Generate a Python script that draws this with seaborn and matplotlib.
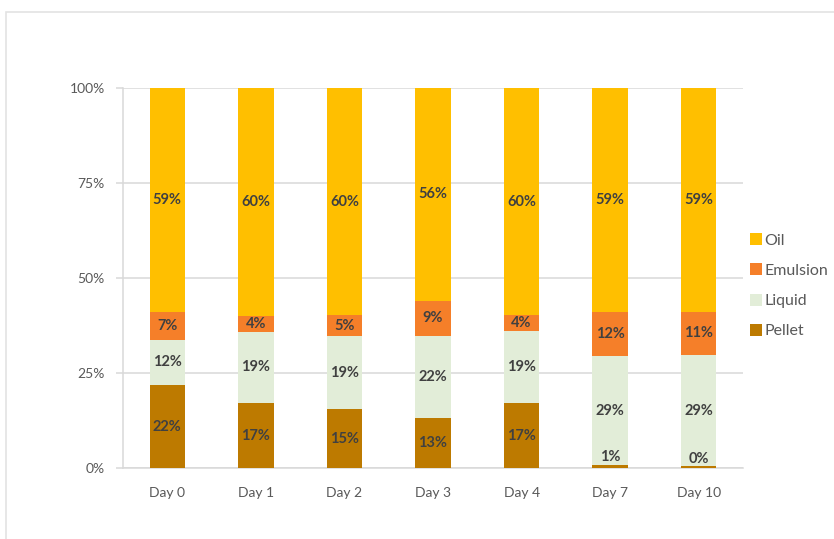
import matplotlib
matplotlib.use("Agg")
import matplotlib.pyplot as plt
from matplotlib.lines import Line2D
from matplotlib.patches import Rectangle
import numpy as np
import pandas as pd
import seaborn as sns

days = ["Day 0", "Day 1", "Day 2", "Day 3", "Day 4", "Day 7", "Day 10"]
pellet = [21.8, 17.1, 15.4, 13.2, 17.0, 0.8, 0.4]
liquid = [12.0, 18.7, 19.4, 21.6, 19.0, 28.6, 29.3]
emulsion = [7.2, 4.2, 5.4, 9.2, 4.2, 11.6, 11.4]
oil = [59.0, 60.0, 59.8, 56.0, 59.8, 59.0, 58.9]

series_names = ["Pellet", "Liquid", "Emulsion", "Oil"]
series_values = [pellet, liquid, emulsion, oil]
colors = {"Pellet": "#BD7A00", "Liquid": "#E2EDD8", "Emulsion": "#F57F29", "Oil": "#FFBF00"}
y_ticks = [0, 25, 50, 75, 100]
y_tick_labels = ["0%", "25%", "50%", "75%", "100%"]

sns.set_theme(style="white")
plt.rcParams["font.family"] = ["Lato", "DejaVu Sans"]

text_gray = "#595959"
label_gray = "#404040"
line_gray = "#D9D9D9"

fig = plt.figure(figsize=(8.34, 5.39), dpi=100)
W, H = 834, 539
ax = fig.add_axes([123 / W, (H - 468) / H, (743 - 123) / W, (468 - 88) / H])

# cumulative tops, stacked from the bottom layer upward
vals = np.array(series_values)
tops = np.cumsum(vals, axis=0)
bottoms = tops - vals

# draw tallest layer first so lower layers sit on top of it
for i in reversed(range(len(series_names))):
    name = series_names[i]
    df = pd.DataFrame({"day": days, "top": tops[i]})
    sns.barplot(data=df, x="day", y="top", order=days, color=colors[name],
                width=0.4, errorbar=None, saturation=1, linewidth=0,
                ax=ax, zorder=3)

# percentage labels in each segment
for i, name in enumerate(series_names):
    for j in range(len(days)):
        v = vals[i, j]
        txt = f"{v:.0f}%"
        if v < 3:
            ax.text(j, tops[i, j] + 0.2, txt, ha="center", va="bottom",
                    fontsize=10.5, fontweight="bold", color=label_gray, zorder=5)
        else:
            ax.text(j, bottoms[i, j] + v / 2, txt, ha="center", va="center",
                    fontsize=10.5, fontweight="bold", color=label_gray, zorder=5)

ax.set_xlim(-0.5, len(days) - 0.5)
ax.set_ylim(0, 100)
ax.set_yticks(y_ticks)
ax.set_yticklabels(y_tick_labels)
ax.set_xlabel("")
ax.set_ylabel("")
ax.yaxis.grid(True, color=line_gray, linewidth=1.1, zorder=0)
ax.set_axisbelow(True)
for side in ["top", "right"]:
    ax.spines[side].set_visible(False)
ax.spines["left"].set_color(line_gray)
ax.spines["bottom"].set_color(line_gray)
ax.spines["left"].set_linewidth(1.1)
ax.spines["bottom"].set_linewidth(1.1)
ax.tick_params(axis="y", which="both", left=True, length=5, width=1.1,
               color=line_gray, labelsize=10, labelcolor=text_gray, pad=8)
ax.tick_params(axis="x", which="both", bottom=False, labelsize=10,
               labelcolor=text_gray, pad=8)

# legend, top layer first
handles = [Line2D([], [], marker="s", linestyle="", markersize=8,
                  markerfacecolor=colors[n], markeredgewidth=0) for n in reversed(series_names)]
fig.legend(handles, list(reversed(series_names)), loc="center left",
           bbox_to_anchor=(735 / W, 1 - 286 / H), frameon=False,
           fontsize=11.5, labelcolor=text_gray, handletextpad=0.15,
           labelspacing=1.0, handlelength=0.8)

# light outer frame
fig.patches.append(Rectangle((6 / W, -0.1), 1.2, 1 - 12 / H + 0.1,
                             transform=fig.transFigure, fill=False,
                             edgecolor="#E3E3E3", linewidth=1.2, zorder=0))

fig.savefig("out.png", dpi=100, facecolor="white")
